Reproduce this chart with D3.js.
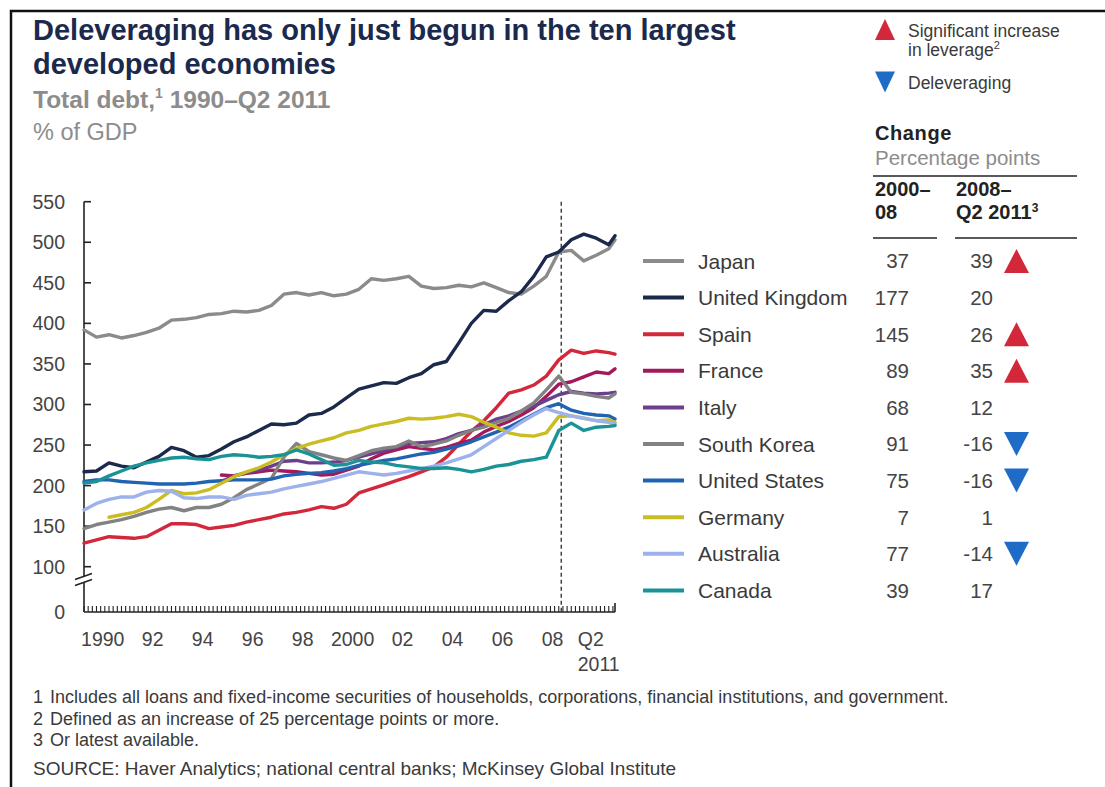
<!DOCTYPE html>
<html>
<head>
<meta charset="utf-8">
<script src="https://cdn.jsdelivr.net/npm/d3@7"></script>
<style>
  body { margin: 0; background: #fff; }
  svg { display: block; font-family: "Liberation Sans", Arial, sans-serif; }
</style>
</head>
<body>
<svg id="chart" width="1105" height="787"></svg>
<script>
// ---- Data -------------------------------------------------------------
const countries = ["Japan", "United Kingdom", "Spain", "France", "Italy",
  "South Korea", "United States", "Germany", "Australia", "Canada"];
const seriesColors = ["#8b8b8b", "#1b2a4c", "#d3273b", "#a3195b", "#6c3f8c",
  "#828282", "#2063b0", "#c9bd22", "#9db1ec", "#1b9396"];
const change2000to08 = [37, 177, 145, 89, 68, 91, 75, 7, 77, 39];
const change2008toQ2_2011 = [39, 20, 26, 35, 12, -16, -16, 1, -14, 17];

// half-yearly observations 1990 to 2011, then Q2 2011
const periods = d3.range(1990, 2011.01, 0.5).concat([2011.25]);

const japan = [392,383,386,382,385,389,394,404,405,407,411,412,415,414,416,422,436,438,435,438,
  434,436,442,455,453,455,458,446,443,444,447,445,450,444,438,436,446,458,488,490,477,484,492,503];
const unitedKingdom = [217,218,228,224,222,229,236,247,243,235,237,245,254,260,268,276,275,277,287,289,
  297,308,319,323,327,326,333,338,349,353,376,400,416,415,428,439,458,482,488,503,510,505,497,508];
const spain = [129,133,137,136,135,137,145,153,153,152,147,149,151,155,158,161,165,167,170,174,
  172,177,191,196,201,206,211,217,223,235,251,267,280,296,314,318,324,335,355,367,363,366,364,362];
const france = [null,null,null,null,null,null,null,null,null,null,null,213,212,215,217,219,218,217,215,213,
  214,219,224,233,240,244,248,246,244,247,252,256,266,273,279,287,296,310,325,328,334,340,338,344];
const italy = [null,null,null,null,null,null,null,null,null,null,null,205,212,216,219,224,230,231,228,228,
  229,231,235,239,243,247,252,253,254,258,264,268,275,282,286,292,298,305,312,316,314,313,314,315];
const southKorea = [147,152,155,158,162,167,171,173,169,173,173,177,185,195,202,209,235,252,242,238,
  234,231,237,243,246,248,255,248,251,255,262,268,272,278,283,292,302,318,335,315,313,310,308,313];
const unitedStates = [205,207,207,205,204,203,202,202,202,203,205,206,207,207,207,208,212,214,215,216,
  218,221,225,228,231,233,236,239,241,245,249,254,260,266,272,280,288,296,301,293,289,287,286,282];
const germany = [null,null,161,164,167,173,183,194,190,191,195,203,211,217,222,229,238,246,251,255,
  259,265,268,273,276,279,283,282,283,285,288,285,278,272,265,262,261,265,285,286,283,280,281,278];
const australia = [170,178,183,186,186,192,194,193,185,184,186,186,183,188,190,192,196,199,202,205,
  209,213,217,215,213,215,218,221,224,228,233,238,248,258,268,278,287,295,290,286,283,280,278,276];
const canada = [203,205,212,218,224,228,231,234,235,233,232,236,238,237,235,236,238,244,239,232,
  225,226,231,229,228,225,223,221,221,222,220,217,220,224,226,230,232,235,268,277,268,272,273,274];

const seriesValues = [japan, unitedKingdom, spain, france, italy,
  southKorea, unitedStates, germany, australia, canada];

const yTickValues = [0, 100, 150, 200, 250, 300, 350, 400, 450, 500, 550];
const xTickYears = [1990, 1992, 1994, 1996, 1998, 2000, 2002, 2004, 2006, 2008];
const xTickLabels = ["1990", "92", "94", "96", "98", "2000", "02", "04", "06", "08"];
const deleveragingStart = 2009.1;

// ---- Layout -------------------------------------------------------------
const svg = d3.select("#chart");
const navy = "#1b2a4c", grey = "#8c8c8c", ink = "#3a3a3a";

svg.append("rect").attr("width", 1105).attr("height", 787).attr("fill", "#fff");
svg.append("rect").attr("x", 11).attr("y", 11).attr("width", 1110).attr("height", 800)
  .attr("fill", "none").attr("stroke", "#111").attr("stroke-width", 2.5);

const x = d3.scaleLinear().domain([1990, 2011.25]).range([84, 615]);
// broken axis: 0–100 compressed
const y = d3.scaleLinear().domain([0, 100, 550]).range([612, 566.7, 201.7]);

// ---- Titles -------------------------------------------------------------
const title = svg.append("text").attr("x", 33).attr("y", 40)
  .attr("font-size", 29).attr("font-weight", "bold").attr("fill", navy);
title.append("tspan").text("Deleveraging has only just begun in the ten largest");
title.append("tspan").attr("x", 33).attr("dy", 34).text("developed economies");

const sub = svg.append("text").attr("x", 33).attr("y", 108)
  .attr("font-size", 24.5).attr("font-weight", "bold").attr("fill", grey);
sub.append("tspan").text("Total debt,");
sub.append("tspan").attr("font-size", 14).attr("dy", -10).text("1");
sub.append("tspan").attr("dy", 10).text(" 1990–Q2 2011");

svg.append("text").attr("x", 33).attr("y", 140).attr("font-size", 23.5)
  .attr("fill", grey).text("% of GDP");

// ---- Axes ---------------------------------------------------------------
const axisG = svg.append("g").attr("stroke", "#222").attr("stroke-width", 1.6);
const breakY = y(72);
axisG.append("line").attr("x1", x(1990)).attr("x2", x(1990))
  .attr("y1", y(550)).attr("y2", breakY - 3.5);
axisG.append("line").attr("x1", x(1990)).attr("x2", x(1990))
  .attr("y1", breakY + 3.5).attr("y2", y(0));
[-3, 3].forEach(o => {
  axisG.append("line").attr("x1", x(1990) - 9).attr("y1", breakY + o + 3)
    .attr("x2", x(1990) + 8).attr("y2", breakY + o - 3);
});

yTickValues.forEach(v => {
  if (v > 0) {
    axisG.append("line").attr("x1", x(1990)).attr("x2", x(1990) + 7)
      .attr("y1", y(v)).attr("y2", y(v));
  }
  svg.append("text").attr("x", 65).attr("y", y(v)).attr("dy", "0.36em")
    .attr("text-anchor", "end").attr("font-size", 19.5).attr("fill", "#444").text(v);
});

axisG.append("line").attr("x1", x(1990)).attr("x2", x(2011.25))
  .attr("y1", y(0)).attr("y2", y(0));
const minorTicks = d3.range(1990, 2011.26, 1 / 6);
axisG.selectAll(".mt").data(minorTicks).join("line")
  .attr("stroke-width", 1.1)
  .attr("x1", d => x(d)).attr("x2", d => x(d))
  .attr("y1", y(0)).attr("y2", y(0) - 6);
axisG.append("line").attr("x1", x(2011.25)).attr("x2", x(2011.25))
  .attr("y1", y(0)).attr("y2", y(0) - 9);

xTickYears.forEach((yr, i) => {
  svg.append("text").attr("x", x(yr + 0.75)).attr("y", y(0) + 34)
    .attr("text-anchor", "middle").attr("font-size", 19.5).attr("fill", "#444")
    .text(xTickLabels[i]);
});
const q2 = svg.append("text").attr("x", x(2009.76)).attr("y", y(0) + 34)
  .attr("font-size", 19.5).attr("fill", "#444");
q2.append("tspan").text("Q2");
q2.append("tspan").attr("x", x(2009.76)).attr("dy", 25).text("2011");

// dashed marker for start of 2008 period
svg.append("line").attr("x1", x(deleveragingStart)).attr("x2", x(deleveragingStart))
  .attr("y1", y(550)).attr("y2", y(0)).attr("stroke", "#444")
  .attr("stroke-width", 1.5).attr("stroke-dasharray", "4,3");

// ---- Lines --------------------------------------------------------------
const line = d3.line()
  .defined(d => d.v != null)
  .x(d => x(d.t)).y(d => y(d.v));

const lineG = svg.append("g").attr("fill", "none")
  .attr("stroke-width", 3.4).attr("stroke-linejoin", "round").attr("stroke-linecap", "round");
countries.forEach((c, i) => {
  const pts = periods.map((t, k) => ({ t, v: seriesValues[i][k] }));
  lineG.append("path").attr("d", line(pts)).attr("stroke", seriesColors[i]);
});

// ---- Legend / change table -----------------------------------------------
const upColor = "#d3283a", downColor = "#1f6cc8";
function tri(cx, cy, w, h, up) {
  return up
    ? `M${cx - w / 2},${cy + h / 2}L${cx + w / 2},${cy + h / 2}L${cx},${cy - h / 2}Z`
    : `M${cx - w / 2},${cy - h / 2}L${cx + w / 2},${cy - h / 2}L${cx},${cy + h / 2}Z`;
}

svg.append("path").attr("d", tri(885, 29.5, 20, 21, true)).attr("fill", upColor);
svg.append("text").attr("x", 908).attr("y", 37).attr("font-size", 17.5).attr("fill", ink)
  .text("Significant increase");
const lev = svg.append("text").attr("x", 908).attr("y", 56).attr("font-size", 17.5).attr("fill", ink);
lev.append("tspan").text("in leverage");
lev.append("tspan").attr("font-size", 11).attr("dy", -7).text("2");
svg.append("path").attr("d", tri(885, 82, 20, 21, false)).attr("fill", downColor);
svg.append("text").attr("x", 908).attr("y", 89).attr("font-size", 17.5).attr("fill", ink)
  .text("Deleveraging");

svg.append("text").attr("x", 875).attr("y", 140).attr("font-size", 20).attr("font-weight", "bold")
  .attr("fill", "#222").attr("letter-spacing", 0.6).text("Change");
svg.append("text").attr("x", 875).attr("y", 165).attr("font-size", 20.5).attr("fill", grey)
  .text("Percentage points");
svg.append("line").attr("x1", 873).attr("x2", 1077).attr("y1", 176).attr("y2", 176)
  .attr("stroke", "#222").attr("stroke-width", 1.4);

const h1 = svg.append("text").attr("x", 875).attr("y", 196).attr("font-size", 20)
  .attr("font-weight", "bold").attr("fill", "#222");
h1.append("tspan").text("2000–");
h1.append("tspan").attr("x", 875).attr("dy", 23).text("08");
const h2 = svg.append("text").attr("x", 956).attr("y", 196).attr("font-size", 20)
  .attr("font-weight", "bold").attr("fill", "#222");
h2.append("tspan").text("2008–");
h2.append("tspan").attr("x", 956).attr("dy", 23).text("Q2 2011");
h2.append("tspan").attr("font-size", 12).attr("dy", -7).text("3");
svg.append("line").attr("x1", 873).attr("x2", 937).attr("y1", 238).attr("y2", 238)
  .attr("stroke", "#222").attr("stroke-width", 1.4);
svg.append("line").attr("x1", 955).attr("x2", 1077).attr("y1", 238).attr("y2", 238)
  .attr("stroke", "#222").attr("stroke-width", 1.4);

const rowY = i => 261 + i * 36.6;
countries.forEach((c, i) => {
  const cy = rowY(i);
  svg.append("line").attr("x1", 643).attr("x2", 684).attr("y1", cy).attr("y2", cy)
    .attr("stroke", seriesColors[i]).attr("stroke-width", 4);
  svg.append("text").attr("x", 698).attr("y", cy).attr("dy", "0.36em")
    .attr("font-size", 21).attr("fill", ink).text(c);
  svg.append("text").attr("x", 909).attr("y", cy).attr("dy", "0.36em")
    .attr("text-anchor", "end").attr("font-size", 20.5).attr("fill", "#444").text(change2000to08[i]);
  const v = change2008toQ2_2011[i];
  svg.append("text").attr("x", 993).attr("y", cy).attr("dy", "0.36em")
    .attr("text-anchor", "end").attr("font-size", 20.5).attr("fill", "#444").text(v);
  if (v >= 25) {
    svg.append("path").attr("d", tri(1016.5, cy, 25, 24, true)).attr("fill", upColor);
  } else if (v < 0) {
    svg.append("path").attr("d", tri(1016.5, cy, 25, 24, false)).attr("fill", downColor);
  }
});

// ---- Footnotes ------------------------------------------------------------
const notes = [
  ["1", "Includes all loans and fixed-income securities of households, corporations, financial institutions, and government."],
  ["2", "Defined as an increase of 25 percentage points or more."],
  ["3", "Or latest available."]
];
notes.forEach((n, i) => {
  svg.append("text").attr("x", 33).attr("y", 703 + i * 21.5).attr("font-size", 18)
    .attr("fill", ink).text(n[0]);
  svg.append("text").attr("x", 50).attr("y", 703 + i * 21.5).attr("font-size", 18)
    .attr("fill", ink).text(n[1]);
});
svg.append("text").attr("x", 33).attr("y", 775).attr("font-size", 19).attr("fill", ink)
  .text("SOURCE: Haver Analytics; national central banks; McKinsey Global Institute");
</script>
</body>
</html>
